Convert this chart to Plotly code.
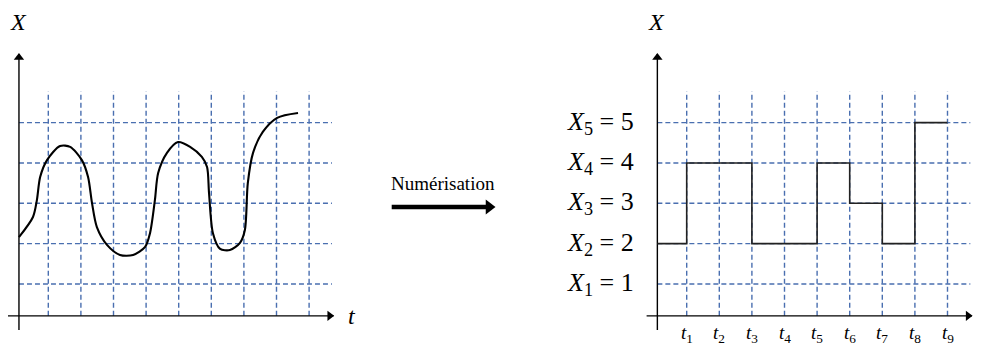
import plotly.graph_objects as go

#######################################
# DATA
# signal analogique (t en pas de grille, X en niveaux)
curve_t = [0.10, 0.53, 0.65, 0.75, 0.96, 1.36, 1.67, 2.03, 2.22, 2.34, 2.49, 2.80,
           3.20, 3.60, 3.97, 4.12, 4.27, 4.37, 4.64, 4.98, 5.35, 5.71, 5.87, 5.93,
           6.05, 6.27, 6.57, 6.88, 7.03, 7.12, 7.28, 7.58, 8.02, 8.66]
curve_x = [2.16, 2.66, 3.08, 3.65, 4.07, 4.42, 4.40, 4.07, 3.65, 3.01, 2.41, 1.97,
           1.72, 1.72, 1.92, 2.26, 3.08, 3.75, 4.25, 4.52, 4.40, 4.15, 3.90, 3.26,
           2.26, 1.87, 1.84, 2.02, 2.34, 3.50, 4.25, 4.77, 5.12, 5.24]

# signal numerise
sample_t = [0.1, 1, 2, 3, 4, 5, 6, 7, 8, 9]
sample_x = [2, 4, 4, 2, 2, 4, 3, 2, 5, 5]

levels = [1, 2, 3, 4, 5]
level_labels = ['<i>X</i><sub>%d</sub> = %d' % (k, k) for k in levels]
times = [1, 2, 3, 4, 5, 6, 7, 8, 9]
time_labels = ['<i>t</i><sub>%d</sub>' % k for k in times]
#######################################

OFF  = 8                 # marge du <body> de la page
W, H = 990 - OFF, 344 - OFF
px_t  = 32.6             # pixels par pas de temps
px_x  = 40.33            # pixels par niveau
y0_px = 324.3            # niveau 0 (pixels depuis le haut de la fenetre)
t0_left, t0_right = 15.7, 654.1
dom_left, dom_right = (OFF, 568), (590, 990)

axis_t = 0.1             # position de l'axe vertical
axis_x = 0.21            # position de l'axe horizontal
grid_top = 5.77
grid_end = 9.7

grid_color = '#4a6fb0'
serif = 'Liberation Serif'

def xrange(dom, t0):
    return [(dom[0] - t0) / px_t, (dom[1] - t0) / px_t]

def xdomain(dom):
    return [(dom[0] - OFF) / W, (dom[1] - OFF) / W]

def lt(px):
    return (px - t0_left) / px_t

def lx(py):
    return (y0_px - py) / px_x

yrange = [lx(344), lx(OFF)]

fig = go.Figure()

for xa, ya, x_start in [('x', 'y', -0.24), ('x2', 'y2', -0.23)]:
    hx, hy = [], []
    for k in levels:
        hx += [axis_t, grid_end, None]
        hy += [k, k, None]
    fig.add_trace(go.Scatter(x = hx, y = hy, mode = 'lines', xaxis = xa, yaxis = ya,
                             line = dict(color = grid_color, width = 1.4, dash = '5px,3px'),
                             hoverinfo = 'skip', showlegend = False))
    vx, vy = [], []
    for k in times:
        vx += [k, k, None]
        vy += [axis_x, grid_top, None]
    fig.add_trace(go.Scatter(x = vx, y = vy, mode = 'lines', xaxis = xa, yaxis = ya,
                             line = dict(color = grid_color, width = 1.4, dash = '5px,3px'),
                             hoverinfo = 'skip', showlegend = False))
    # axes + fleches
    fig.add_trace(go.Scatter(x = [axis_t, axis_t, None, x_start, 9.75], y = [-0.14, 6.7, None, axis_x, axis_x],
                             mode = 'lines', xaxis = xa, yaxis = ya, line = dict(color = 'black', width = 1.4),
                             hoverinfo = 'skip', showlegend = False))
    fig.add_trace(go.Scatter(x = [axis_t], y = [6.73 - 4.5 / px_x], mode = 'markers', xaxis = xa, yaxis = ya,
                             marker = dict(symbol = 'triangle-up', size = 9, color = 'black'),
                             hoverinfo = 'skip', showlegend = False))
    fig.add_trace(go.Scatter(x = [9.77 - 4.5 / px_t], y = [axis_x], mode = 'markers', xaxis = xa, yaxis = ya,
                             marker = dict(symbol = 'triangle-right', size = 9, color = 'black'),
                             hoverinfo = 'skip', showlegend = False))

fig.add_trace(go.Scatter(x = curve_t, y = curve_x, mode = 'lines', xaxis = 'x', yaxis = 'y',
                         line = dict(color = 'black', width = 2.1, shape = 'spline', smoothing = 0.8),
                         showlegend = False))
fig.add_trace(go.Scatter(x = sample_t, y = sample_x, mode = 'lines', xaxis = 'x2', yaxis = 'y2',
                         line = dict(color = '#222222', width = 1.6, shape = 'hv'),
                         showlegend = False))

# fleche de numerisation
fig.add_trace(go.Scatter(x = [lt(391.7), lt(487)], y = [lx(207), lx(207)], mode = 'lines',
                         xaxis = 'x', yaxis = 'y', line = dict(color = 'black', width = 4.5),
                         hoverinfo = 'skip', showlegend = False))
fig.add_trace(go.Scatter(x = [lt(489)], y = [lx(207)], mode = 'markers', xaxis = 'x', yaxis = 'y',
                         marker = dict(symbol = 'triangle-right', size = 13, color = 'black'),
                         hoverinfo = 'skip', showlegend = False))

ann = []
for xr, yr in [('x', 'y'), ('x2', 'y2')]:
    ann.append(dict(x = 0.08, y = lx(22), xref = xr, yref = yr, text = '<i>X</i>', showarrow = False,
                    font = dict(family = serif, size = 24, color = 'black')))

ann.append(dict(x = lt(352), y = lx(316), xref = 'x', yref = 'y', text = '<i>t</i>', showarrow = False,
                font = dict(family = serif, size = 24, color = 'black')))
ann.append(dict(x = 1, y = 1 - (316 - OFF) / H, xref = 'paper', yref = 'paper', xanchor = 'left', xshift = -3,
                text = '<i>t</i>', showarrow = False,
                font = dict(family = serif, size = 24, color = 'black')))
ann.append(dict(x = lt(443), y = lx(183), xref = 'x', yref = 'y', text = 'Numérisation',
                showarrow = False, font = dict(family = serif, size = 19, color = 'black')))

for k, lab in zip(levels, level_labels):
    ann.append(dict(x = (636 - t0_right) / px_t, y = k, xref = 'x2', yref = 'y2', xanchor = 'right',
                    text = lab, showarrow = False,
                    font = dict(family = serif, size = 26, color = 'black')))
for k, lab in zip(times, time_labels):
    ann.append(dict(x = k, y = lx(334), xref = 'x2', yref = 'y2', text = lab, showarrow = False,
                    font = dict(family = serif, size = 19, color = 'black')))

fig.update_layout(
    width = W,
    height = H,
    margin = dict(l = 0, r = 0, t = 0, b = 0),
    plot_bgcolor = 'white',
    paper_bgcolor = 'white',
    annotations = ann,
    xaxis = dict(domain = xdomain(dom_left), range = xrange(dom_left, t0_left), visible = False),
    yaxis = dict(domain = [0, 1], range = yrange, visible = False),
    xaxis2 = dict(domain = xdomain(dom_right), range = xrange(dom_right, t0_right),
                  visible = False, anchor = 'y2'),
    yaxis2 = dict(domain = [0, 1], range = yrange, visible = False, anchor = 'x2'),
)

fig.write_html("out.html")
